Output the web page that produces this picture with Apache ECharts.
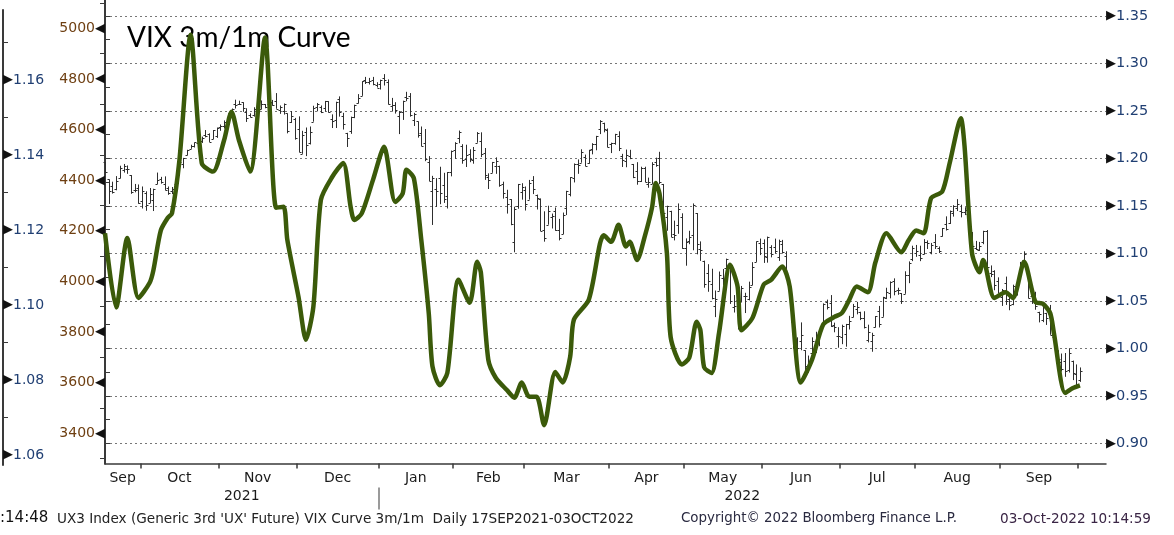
<!DOCTYPE html>
<html>
<head>
<meta charset="utf-8">
<script src="https://cdn.jsdelivr.net/npm/echarts@6/dist/echarts.min.js"></script>
<style>
  html, body { margin: 0; padding: 0; background: #fff; }
  #chart { width: 1174px; height: 535px; }
</style>
</head>
<body>
<div id="chart"></div>
<script>
// trading calendar 17SEP2021 - 03OCT2022
const firstDay = '2021-09-17'
const lastDay = '2022-10-03'
const holidays = ['2021-11-25', '2021-12-24', '2022-01-17', '2022-02-21', '2022-04-15',
  '2022-05-30', '2022-06-20', '2022-07-04', '2022-09-05']
const monthNames = ['Jan', 'Feb', 'Mar', 'Apr', 'May', 'Jun', 'Jul', 'Aug', 'Sep', 'Oct', 'Nov', 'Dec']

// SPX daily bars (left axis 3400-5000)
const spxOpen = [
  4470,4403,4375,4367,4410,4439,4443,4419,4362,4370,
  4318,4348,4310,4320,4384,4406,4386,4368,4358,4386,4447,4464,4498,4524,4533,4546,4553,4578,4581,4562,4573,
  4610,4614,4631,4662,4700,4701,4708,4670,4659,4656,4689,4680,4701,4700,4708,4712,4679,4675,4664,4629,4640,
  4602,4504,4589,4548,4631,4690,4691,4687,4711,4643,4637,4720,4653,4587,4594,4650,4704,4733,4795,4788,4794,4775,
  4779,4804,4788,4693,4697,4655,4669,4729,4733,4637,4632,4588,4548,4471,4357,4367,4408,4380,4337,4432,
  4519,4567,4535,4482,4505,4480,4548,4553,4507,4413,4430,4456,4457,4384,4332,4324,4156,4298,4354,
  4363,4322,4401,4343,4327,4203,4224,4253,4279,4202,4189,4289,4345,4407,4463,4469,4493,4469,4522,4541,4602,4625,4599,
  4541,4548,4573,4495,4475,4494,4463,4437,4398,4449,4386,4386,4473,4489,4385,4255,4279,4187,4223,4253,
  4130,4159,4182,4270,4129,4081,4035,3991,3903,3963,4013,4053,4052,3899,3928,3920,3943,3930,3985,4077,4152,
  4150,4096,4137,4135,4097,4148,4102,3975,3838,3763,3764,3728,3666,3716,3733,3774,3822,3920,3913,3826,3785,
  3782,3792,3831,3859,3889,3880,3855,3770,3764,3818,3883,3860,3935,3955,4000,3966,3953,3951,4026,4087,
  4112,4105,4107,4155,4115,4156,4133,4181,4228,4232,4270,4290,4280,4273,4266,4195,4133,4126,4154,4199,4034,4041,4000,
  3937,3994,3930,3910,3960,4023,4084,4041,3941,3932,3880,3849,3875,3871,3782,3727,3682,3687,3651,3687,3633,
  3609
]
const spxHigh = [
  4472,4403,4394,4416,4457,4464,4458,4420,4385,4383,
  4375,4356,4369,4366,4430,4413,4415,4375,4373,4439,4475,4488,4520,4540,4549,4560,4572,4598,4585,4598,4608,
  4620,4636,4664,4683,4718,4714,4708,4684,4664,4688,4697,4715,4701,4708,4717,4744,4695,4703,4664,4673,4646,
  4652,4595,4608,4612,4694,4705,4695,4713,4712,4660,4710,4731,4666,4587,4651,4698,4740,4791,4808,4804,4808,4787,
  4797,4819,4798,4725,4708,4673,4714,4749,4744,4666,4632,4612,4602,4495,4417,4408,4453,4429,4432,4517,
  4550,4596,4542,4540,4522,4531,4590,4589,4527,4427,4472,4490,4457,4394,4362,4325,4295,4385,4388,
  4375,4401,4416,4343,4328,4277,4299,4268,4292,4247,4272,4358,4412,4466,4482,4522,4501,4520,4546,4575,4637,4627,4604,
  4548,4583,4593,4504,4521,4520,4464,4471,4453,4453,4410,4471,4489,4512,4385,4299,4279,4240,4308,4269,
  4170,4200,4308,4270,4158,4082,4068,4050,3964,4039,4049,4090,4052,3946,3944,3982,3955,3999,4076,4158,4169,
  4166,4177,4143,4169,4165,4164,4119,3975,3838,3779,3838,3728,3707,3779,3801,3802,3913,3928,3946,3837,3819,
  3829,3832,3864,3911,3919,3880,3882,3829,3797,3863,3903,3939,3975,4000,4012,3975,3954,4040,4079,4141,
  4144,4141,4167,4162,4152,4187,4138,4211,4257,4280,4301,4325,4303,4293,4266,4195,4160,4156,4200,4203,4063,4044,4016,
  3970,4019,3942,3987,4010,4077,4119,4041,3961,3959,3880,3900,3876,3907,3790,3727,3715,3717,3736,3687,3672,
  3660
]
const spxLow = [
  4428,4306,4347,4360,4407,4430,4425,4346,4352,4307,
  4288,4279,4310,4278,4384,4386,4360,4342,4345,4386,4447,4447,4498,4524,4529,4538,4547,4569,4551,4562,4567,
  4595,4604,4616,4655,4683,4697,4670,4630,4648,4651,4672,4680,4684,4673,4694,4682,4662,4659,4585,4626,4560,
  4510,4504,4495,4541,4631,4672,4665,4671,4667,4606,4606,4651,4600,4531,4583,4645,4703,4733,4780,4778,4775,4766,
  4758,4774,4699,4671,4663,4582,4638,4712,4651,4614,4568,4534,4475,4396,4223,4294,4305,4310,4288,4415,
  4484,4546,4465,4452,4471,4465,4548,4491,4401,4365,4429,4425,4374,4327,4268,4222,4115,4287,4323,
  4280,4323,4345,4284,4199,4157,4224,4209,4200,4162,4187,4262,4336,4391,4425,4469,4455,4465,4502,4518,4582,4589,4530,
  4507,4540,4515,4452,4451,4483,4408,4382,4393,4392,4370,4385,4453,4384,4268,4200,4175,4162,4188,4129,
  4062,4147,4123,4107,4081,3975,3959,3929,3859,3963,3985,4033,3911,3877,3810,3919,3875,3925,3985,4077,4104,
  4073,4074,4095,4110,4081,4110,4017,3901,3734,3722,3728,3640,3639,3706,3717,3744,3822,3889,3820,3799,3738,
  3752,3742,3810,3858,3870,3847,3814,3759,3722,3818,3818,3860,3930,3933,3945,3947,3911,3951,3993,4080,
  4097,4080,4107,4128,4107,4128,4112,4177,4201,4227,4256,4278,4253,4262,4218,4129,4124,4120,4147,4057,4017,3965,3954,
  3903,3907,3886,3906,3944,4023,4084,3933,3911,3888,3838,3839,3828,3789,3749,3648,3644,3623,3640,3610,3584,
  3603
]
const spxClose = [
  4433,4358,4354,4395,4449,4455,4443,4353,4360,4308,
  4357,4300,4346,4364,4399,4391,4361,4351,4364,4438,4471,4487,4520,4536,4549,4545,4567,4575,4551,4597,4605,
  4614,4631,4660,4680,4697,4702,4686,4646,4650,4683,4683,4701,4689,4705,4698,4683,4690,4702,4595,4655,4567,
  4513,4577,4538,4592,4686,4701,4668,4712,4669,4634,4709,4668,4621,4568,4649,4697,4726,4791,4786,4793,4778,4766,
  4797,4794,4701,4696,4677,4670,4713,4726,4659,4663,4577,4533,4483,4398,4410,4357,4350,4327,4432,4516,
  4546,4589,4478,4501,4484,4521,4587,4504,4419,4402,4472,4475,4381,4349,4305,4226,4288,4385,4374,
  4306,4387,4364,4329,4201,4171,4278,4260,4204,4173,4263,4358,4412,4463,4461,4512,4456,4520,4543,4575,4632,4602,4530,
  4546,4583,4526,4481,4501,4488,4413,4397,4447,4393,4391,4463,4460,4394,4272,4297,4175,4184,4288,4132,
  4155,4175,4300,4147,4123,3991,4001,3935,3930,4024,4008,4089,3924,3901,3901,3974,3941,3979,4058,4158,4132,
  4101,4177,4109,4121,4161,4116,4018,3901,3750,3735,3790,3667,3675,3765,3760,3796,3912,3900,3822,3819,3785,
  3825,3831,3845,3903,3899,3855,3819,3802,3790,3863,3831,3937,3960,3999,3962,3967,3921,4024,4072,4130,
  4119,4091,4155,4152,4145,4140,4122,4210,4207,4280,4297,4305,4275,4284,4228,4138,4128,4141,4200,4058,4031,3986,3955,
  3967,3924,3908,3980,4006,4067,4110,3933,3946,3901,3873,3900,3856,3790,3758,3693,3655,3647,3719,3640,3586,
  3645
]

// VIX 3m/1m curve (right axis), trading-day index and ratio
const curveDay = [0,3,6,9,12,13,15,17,18,20,23,26,29,32,34,36,39,43,46,48,49,52,54,56,58,61,64,66,67,69,
  72,75,78,80,81,83,85,87,88,90,92,95,98,100,101,103,105,108,110,112,114,116,118,121,123,125,126,130,133,134,
  136,138,140,141,143,145,147,148,149,151,152,155,157,159,160,161,163,165,168,170,171,174,177,179,182,184,187,190,193,196,
  198,200,202,205,207,210,214,216,218,220,222,225,227,230,231,233,235,236,239,242,244,247,250,252,254,255,258,260,262]
const curveVal = [1.121,1.043,1.116,1.053,1.069,1.082,1.124,1.138,1.142,1.198,1.330,1.195,1.186,1.219,1.249,1.219,1.186,1.327,1.148,1.149,1.114,1.054,1.009,1.044,1.156,1.180,1.195,1.149,1.135,1.142,
  1.177,1.212,1.154,1.163,1.188,1.179,1.114,1.037,0.981,0.961,0.974,1.072,1.048,1.091,1.080,0.988,0.969,0.956,0.948,0.964,0.949,0.949,0.919,0.975,0.964,0.991,1.030,1.051,1.110,1.119,
  1.112,1.130,1.107,1.112,1.093,1.117,1.148,1.174,1.163,1.100,1.012,0.983,0.990,1.028,1.019,0.980,0.974,1.016,1.088,1.065,1.019,1.032,1.067,1.072,1.086,1.065,0.964,0.988,1.025,1.033,
  1.037,1.051,1.065,1.059,1.090,1.121,1.101,1.114,1.124,1.121,1.158,1.165,1.195,1.242,1.212,1.100,1.080,1.093,1.053,1.059,1.053,1.091,1.049,1.047,1.037,1.016,0.953,0.958,0.961]

// axis ticks
const rightLabels = [0.90, 0.95, 1.00, 1.05, 1.10, 1.15, 1.20, 1.25, 1.30, 1.35]
const rightTicks = [0.90, 0.925, 0.95, 0.975, 1.00, 1.025, 1.05, 1.075, 1.10, 1.125, 1.15, 1.175, 1.20, 1.225, 1.25, 1.275, 1.30, 1.325, 1.35]
const spxLabels = [3400, 3600, 3800, 4000, 4200, 4400, 4600, 4800, 5000]
const spxTicks = [3300, 3400, 3500, 3600, 3700, 3800, 3900, 4000, 4100, 4200, 4300, 4400, 4500, 4600, 4700, 4800, 4900, 5000, 5100]
const farLabels = [1.06, 1.08, 1.10, 1.12, 1.14, 1.16]
const farTicks = [1.06, 1.07, 1.08, 1.09, 1.10, 1.11, 1.12, 1.13, 1.14, 1.15, 1.16, 1.17]

const xMax = 269

function tradingDays() {
  const out = []
  const d = new Date(firstDay + 'T00:00:00Z')
  const end = new Date(lastDay + 'T00:00:00Z')
  while (d <= end) {
    const s = d.toISOString().slice(0, 10)
    const wd = d.getUTCDay()
    if (wd !== 0 && wd !== 6 && holidays.indexOf(s) < 0) out.push(s)
    d.setUTCDate(d.getUTCDate() + 1)
  }
  return out
}

const days = tradingDays()

// month boundaries and label spots
const monthBounds = []
const monthLabel = {}
const monthMids = []
let segStart = 0
for (let i = 1; i <= days.length; i++) {
  if (i === days.length || days[i].slice(0, 7) !== days[i - 1].slice(0, 7)) {
    const b = i - 0.5
    if (i < days.length) monthBounds.push(b)
    if (i - segStart >= 5) {
      const mid = (Math.max(segStart - 0.5, 0) + b) / 2
      monthMids.push(mid)
      monthLabel[mid.toFixed(2)] = monthNames[+days[i - 1].slice(5, 7) - 1]
    }
    segStart = i
  }
}
let yearBound = 0
for (let i = 1; i < days.length; i++) {
  if (days[i].slice(0, 4) !== days[i - 1].slice(0, 4)) yearBound = i - 0.5
}
const yearLabel = {}
const yearMids = [yearBound / 2, (yearBound + xMax) / 2]
yearLabel[yearMids[0].toFixed(2)] = days[0].slice(0, 4)
yearLabel[yearMids[1].toFixed(2)] = days[days.length - 1].slice(0, 4)

const barData = spxOpen.map((o, i) => [i, o, spxClose[i], spxLow[i], spxHigh[i]])
const curveData = curveDay.map((d, i) => [d, curveVal[i]])

const axisColor = '#3a3a3a'
const blue = '#203f73'
const brown = '#6e3f12'
const font = 'DejaVu Sans'

const chart = echarts.init(document.getElementById('chart'))

function renderBar(params, api) {
  const x = Math.round(api.coord([api.value(0), 0])[0]) + 0.5
  const yo = Math.round(api.coord([0, api.value(1)])[1]) + 0.5
  const yc = Math.round(api.coord([0, api.value(2)])[1]) + 0.5
  const yl = api.coord([0, api.value(3)])[1]
  const yh = api.coord([0, api.value(4)])[1]
  const style = {stroke: '#2e2e2e', lineWidth: 1}
  return {
    type: 'group',
    children: [
      {type: 'line', shape: {x1: x, y1: yl, x2: x, y2: yh}, style: style},
      {type: 'line', shape: {x1: x - 2, y1: yo, x2: x, y2: yo}, style: style},
      {type: 'line', shape: {x1: x, y1: yc, x2: x + 2, y2: yc}, style: style}
    ]
  }
}

const arrowRich = {t: {fontSize: 13, color: '#111', fontFamily: font}}

const options = {
  animation: false,
  backgroundColor: '#fff',
  grid: [
    {left: 105, right: 68, top: 0, bottom: 71.5},
    {left: 2.5, width: 1, top: 10, bottom: 70}
  ],
  xAxis: [
    {
      type: 'value', gridIndex: 0, min: 0, max: xMax,
      axisLine: {lineStyle: {color: axisColor, width: 1.5}},
      axisTick: {customValues: monthBounds, length: 5, lineStyle: {color: axisColor, width: 1.5}},
      axisLabel: {
        customValues: monthMids, margin: 8, color: '#1a1a1a', fontSize: 14, fontFamily: font,
        formatter: v => monthLabel[v.toFixed(2)] || ''
      },
      splitLine: {show: false}
    },
    {
      type: 'value', gridIndex: 0, min: 0, max: xMax, position: 'bottom', offset: 24,
      axisLine: {show: false},
      axisTick: {customValues: [yearBound], length: 22, lineStyle: {color: '#9a9a9a', width: 2}},
      axisLabel: {
        customValues: yearMids, margin: 2, color: '#1a1a1a', fontSize: 14, fontFamily: font,
        formatter: v => yearLabel[v.toFixed(2)] || ''
      },
      splitLine: {show: false}
    },
    {type: 'value', gridIndex: 1, min: 0, max: 1, show: false}
  ],
  yAxis: [
    {
      // right axis: VIX curve
      type: 'value', gridIndex: 0, position: 'right', min: 0.8787, max: 1.3666,
      axisLine: {show: true, lineStyle: {color: axisColor, width: 2}},
      axisTick: {show: true, customValues: rightTicks, length: 5, lineStyle: {color: axisColor}},
      axisLabel: {
        customValues: rightLabels, margin: 0, color: blue, fontSize: 14.5, fontFamily: font,
        formatter: v => '{t|▶}' + v.toFixed(2),
        rich: arrowRich
      },
      splitLine: {show: false}
    },
    {
      // dotted grid lines at the right axis labels
      type: 'value', gridIndex: 0, position: 'right', min: 0.8787, max: 1.3666,
      axisLine: {show: false},
      axisTick: {show: false, customValues: rightLabels},
      axisLabel: {show: false},
      splitLine: {show: true, lineStyle: {color: '#777', type: [2, 3], width: 1}}
    },
    {
      // left axis: SPX
      type: 'value', gridIndex: 0, position: 'left', min: 3280.5, max: 5111.8,
      axisLine: {show: true, lineStyle: {color: axisColor, width: 2}},
      axisTick: {show: true, customValues: spxTicks, length: 5, lineStyle: {color: axisColor}},
      axisLabel: {
        customValues: spxLabels, margin: 0, color: brown, fontSize: 14, fontFamily: font,
        formatter: v => v + '{t|◀}',
        rich: arrowRich
      },
      splitLine: {show: false}
    },
    {
      // far left axis
      type: 'value', gridIndex: 1, position: 'left', min: 1.0573, max: 1.1787,
      axisLine: {show: true, lineStyle: {color: axisColor, width: 2}},
      axisTick: {show: true, inside: true, customValues: farTicks, length: 5, lineStyle: {color: axisColor}},
      axisLabel: {
        inside: true, customValues: farLabels, margin: 0, color: blue, fontSize: 14, fontFamily: font,
        formatter: v => '{t|▶}' + v.toFixed(2),
        rich: arrowRich
      },
      splitLine: {show: false}
    }
  ],
  series: [
    {
      name: 'SPX',
      type: 'custom',
      xAxisIndex: 0,
      yAxisIndex: 2,
      renderItem: renderBar,
      encode: {x: 0, y: [1, 2, 3, 4]},
      data: barData,
      z: 2
    },
    {
      name: 'VIX 3m/1m',
      type: 'line',
      xAxisIndex: 0,
      yAxisIndex: 0,
      data: curveData,
      showSymbol: false,
      smooth: 0.25,
      lineStyle: {color: '#3b5a0a', width: 4.5},
      z: 5
    }
  ],
  graphic: [
    {type: 'text', left: 127, top: 24, style: {text: 'VIX 3m/1m Curve', font: '28px Lato', fill: '#000'}},
    {type: 'text', left: 0, top: 511, style: {text: ':14:48', font: '15px "DejaVu Sans"', fill: '#111'}},
    {type: 'text', left: 57, top: 512, style: {text: "UX3 Index (Generic 3rd 'UX' Future) VIX Curve 3m/1m  Daily 17SEP2021-03OCT2022", font: '13.6px "DejaVu Sans"', fill: '#222'}},
    {type: 'text', left: 681, top: 512, style: {text: 'Copyright© 2022 Bloomberg Finance L.P.', font: '13.4px "DejaVu Sans"', fill: '#2a2a40'}},
    {type: 'text', left: 1000, top: 512, style: {text: '03-Oct-2022 10:14:59', font: '13.6px "DejaVu Sans"', fill: '#3a2545'}}
  ]
}

chart.setOption(options)
</script>
</body>
</html>
